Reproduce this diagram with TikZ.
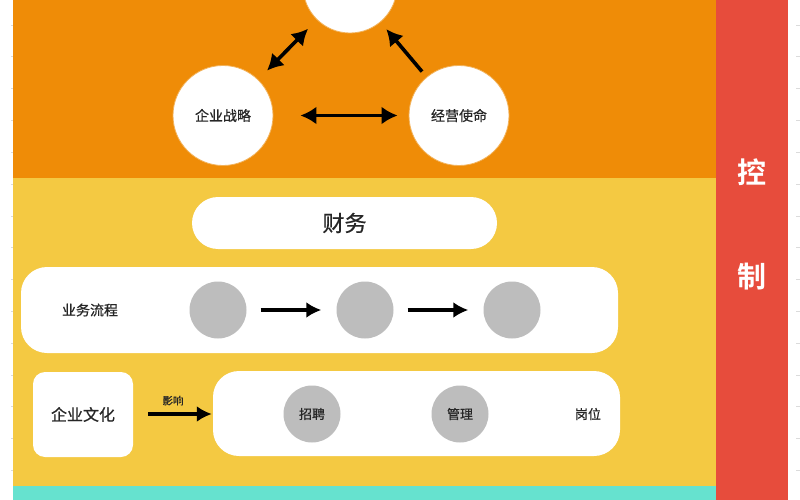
\documentclass[tikz,border=0pt]{standalone}
\usepackage{fontspec}
\newfontfamily\cjk[FakeBold=0.6]{Noto Sans CJK SC}
\newfontfamily\cjkb{Noto Sans CJK SC Bold}
\usetikzlibrary{arrows.meta}
\definecolor{orangebg}{HTML}{EF8C07}
\definecolor{yellowbg}{HTML}{F4C942}
\definecolor{redbar}{HTML}{E74C3C}
\definecolor{tealbar}{HTML}{66E2CF}
\definecolor{graydot}{HTML}{BDBDBD}
\definecolor{txt}{HTML}{262626}
\definecolor{ringc}{HTML}{F2B25A}
\tikzset{
  bigcirc/.style={circle, fill=white, draw=ringc, line width=0.8pt, minimum size=100pt, inner sep=0pt, text=txt, font=\cjk\fontsize{14}{16}\selectfont},
  dotc/.style={circle, fill=graydot, minimum size=57pt, inner sep=0pt, text=txt, font=\cjk\fontsize{13}{15}\selectfont},
  pill/.style={rectangle, fill=white, rounded corners=26pt, inner sep=0pt, text=txt},
  lbl/.style={text=txt, inner sep=0pt},
  arr/.style={line width=3.2pt, -{Latex[length=15pt,width=16pt]}},
  darr/.style={line width=3.6pt, {Latex[length=16pt,width=18pt]}-{Latex[length=16pt,width=18pt]}},
  tick/.style={draw=black!14, line width=0.6pt}
}
\begin{document}
\begin{tikzpicture}[x=1pt,y=-1pt]
\useasboundingbox (0,0) rectangle (800,500);
\clip (0,0) rectangle (800,500);
% backgrounds
\fill[white] (0,0) rectangle (800,500);
\fill[orangebg] (13,0) rectangle (716,178);
\fill[yellowbg] (13,178) rectangle (716,486);
\fill[tealbar] (13,486) rectangle (716,500);
\fill[redbar] (716,0) rectangle (788,500);
% ruler ticks
\foreach \k in {0,...,15} {
  \draw[tick] (11,{25+31.8*\k}) -- (13,{25+31.8*\k});
  \draw[tick] (796,{25+31.8*\k}) -- (800,{25+31.8*\k});
}
% top triangle
\node[bigcirc, minimum size=94pt] (top) at (350,-14) {};
\node[bigcirc] (zl) at (223,115.5) {企业战略};
\node[bigcirc] (sm) at (459,115.5) {经营使命};
\draw[darr, shorten <=12.5pt, shorten >=12.5pt] (zl) -- (top);
\draw[darr, shorten <=27pt, shorten >=11pt] (zl.east) -- (sm.west);
\draw[arr, line width=3.6pt, -{Latex[length=16pt,width=18pt]}, shorten <=7pt, shorten >=9pt] (sm) -- (top);
% control column
\node[text=white, font=\cjkb\fontsize{29}{32}\selectfont, inner sep=0pt] (kong) at (752,172) {控};
\node[text=white, font=\cjkb\fontsize{29}{32}\selectfont, inner sep=0pt] (zhi) at (752,277) {制};
% finance
\node[pill, minimum width=305pt, minimum height=52pt, font=\cjk\fontsize{22}{24}\selectfont] (cw) at (344.5,223) {财务};
% business process
\node[pill, minimum width=597pt, minimum height=86pt] (lc) at (319.5,310) {};
\node[lbl, font=\cjk\fontsize{14}{16}\selectfont] (lct) at (90,310) {业务流程};
\node[dotc] (p1) at (218,310) {};
\node[dotc] (p2) at (365,310) {};
\node[dotc] (p3) at (512,310) {};
\draw[arr, shorten <=14pt, shorten >=15pt] (p1) -- (p2);
\draw[arr, shorten <=14pt, shorten >=15pt] (p2) -- (p3);
% culture & posts
\node[pill, rounded corners=12pt, minimum width=100pt, minimum height=85pt, font=\cjk\fontsize{16}{18}\selectfont] (wh) at (83,414.5) {企业文化};
\node[pill, minimum width=407pt, minimum height=85pt] (gw) at (416.5,413.5) {};
\node[dotc] (zp) at (312,414) {招聘};
\node[dotc] (gl) at (460,414) {管理};
\node[lbl, font=\cjk\fontsize{13}{15}\selectfont] (gwt) at (588,414) {岗位};
\draw[arr, line width=3.2pt, shorten <=15pt, shorten >=1pt] (wh.east |- 0,414) coordinate (a1) -- (gw.west |- 0,414) coordinate (a2)
  node[midway, above=7pt, lbl, font=\cjk\fontsize{10.5}{12}\selectfont] (yx) {影响};
\end{tikzpicture}
\end{document}
